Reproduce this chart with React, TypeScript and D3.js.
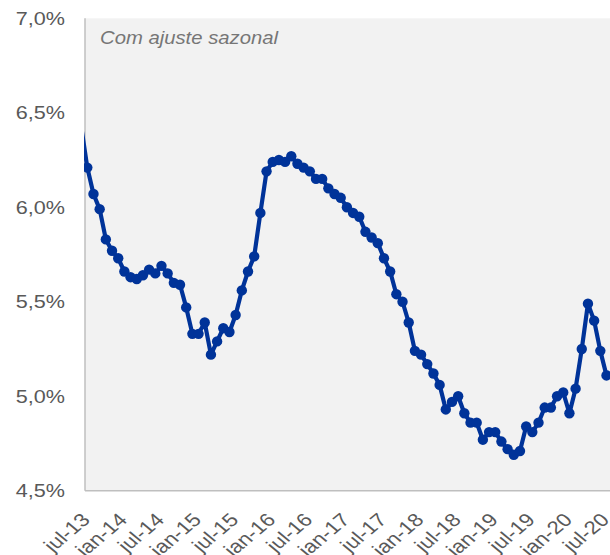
import React from 'react';
import * as d3 from 'd3';

// monthly rate, jun-13 (clipped off at the left edge) through jul-20
const rateValues = [
    6.43,
    6.21, 6.07, 5.99, 5.83, 5.77, 5.73,
    5.66, 5.63, 5.62, 5.64, 5.67, 5.65,
    5.69, 5.65, 5.60, 5.59, 5.47, 5.33,
    5.33, 5.39, 5.22, 5.29, 5.36, 5.34,
    5.43, 5.56, 5.66, 5.74, 5.97, 6.19,
    6.24, 6.25, 6.24, 6.27, 6.23, 6.21,
    6.19, 6.15, 6.15, 6.10, 6.07, 6.05,
    6.00, 5.97, 5.95, 5.87, 5.84, 5.81,
    5.73, 5.66, 5.54, 5.50, 5.39, 5.24,
    5.22, 5.17, 5.12, 5.06, 4.93, 4.97,
    5.00, 4.91, 4.86, 4.86, 4.77, 4.81,
    4.81, 4.76, 4.72, 4.69, 4.71, 4.84,
    4.81, 4.86, 4.94, 4.94, 5.00, 5.02,
    4.91, 5.04, 5.25, 5.49, 5.40, 5.24,
    5.11,
];
const firstMonthOffset = -1; // first value is jun-13, one month before jul-13

const xTickLabels = [
    'jul-13', 'jan-14', 'jul-14', 'jan-15', 'jul-15', 'jan-16', 'jul-16', 'jan-17',
    'jul-17', 'jan-18', 'jul-18', 'jan-19', 'jul-19', 'jan-20', 'jul-20',
];
const monthsPerTick = 6;

const yTicks = [4.5, 5.0, 5.5, 6.0, 6.5, 7.0];
const subtitle = 'Com ajuste sazonal';

const W = 610;
const H = 555;
const plot = { left: 85, right: 610, top: 18.3, bottom: 490.7 };
const font = '"Liberation Sans", Arial, sans-serif';
const textColor = '#595959';
const lineColor = '#003399';

const App = () => {
    const x = d3.scaleLinear().domain([0, 84]).range([87.3, 606.5]);
    const y = d3.scaleLinear().domain([4.5, 7.0]).range([plot.bottom, plot.top]);

    const points = rateValues.map((v, i) => ({ i: i + firstMonthOffset, v }));
    const line = d3.line<{ i: number; v: number }>()
        .x(d => x(d.i))
        .y(d => y(d.v));

    const fmt = (v: number) => v.toFixed(1).replace('.', ',') + '%';

    return (
        <div style={{ position: 'fixed', left: 0, top: 0 }}>
            <svg width={W} height={H} style={{ display: 'block', background: '#fff' }}>
                <defs>
                    <clipPath id="plotClip">
                        <rect x={plot.left - 1} y={0} width={plot.right - plot.left + 2} height={H} />
                    </clipPath>
                </defs>

                <rect x={plot.left} y={plot.top} width={plot.right - plot.left}
                    height={plot.bottom - plot.top} fill="#f2f2f2" />

                <text x={100} y={44} fontFamily={font} fontSize={18} fontStyle="italic"
                    fill="#767676" textLength={178} lengthAdjust="spacingAndGlyphs">{subtitle}</text>

                <line x1={plot.left} x2={plot.left} y1={plot.top} y2={plot.bottom}
                    stroke="#bfbfbf" strokeWidth={1.5} />
                <line x1={plot.left} x2={plot.right} y1={plot.bottom} y2={plot.bottom}
                    stroke="#bfbfbf" strokeWidth={1.5} />

                {yTicks.map(t => (
                    <text key={t} transform={`translate(65,${y(t)}) scale(1.2,1)`}
                        textAnchor="end" dominantBaseline="central"
                        fontFamily={font} fontSize={18} fill={textColor}>{fmt(t)}</text>
                ))}

                {xTickLabels.map((lab, k) => (
                    <text key={lab} transform={`translate(${x(k * monthsPerTick) + 4},521) scale(1.2,1) rotate(-45)`}
                        textAnchor="end" fontFamily={font} fontSize={18.5} fill={textColor}>{lab}</text>
                ))}

                <g clipPath="url(#plotClip)">
                    <path d={line(points) ?? ''} fill="none" stroke={lineColor}
                        strokeWidth={4.2} strokeLinejoin="round" />
                    {/* markers only inside the axis range; the jun-13 one is off the chart */}
                    {points.filter(d => d.i >= 0).map(d => (
                        <circle key={d.i} cx={x(d.i)} cy={y(d.v)} r={5.2} fill={lineColor} />
                    ))}
                </g>
            </svg>
        </div>
    );
};

export default App;
